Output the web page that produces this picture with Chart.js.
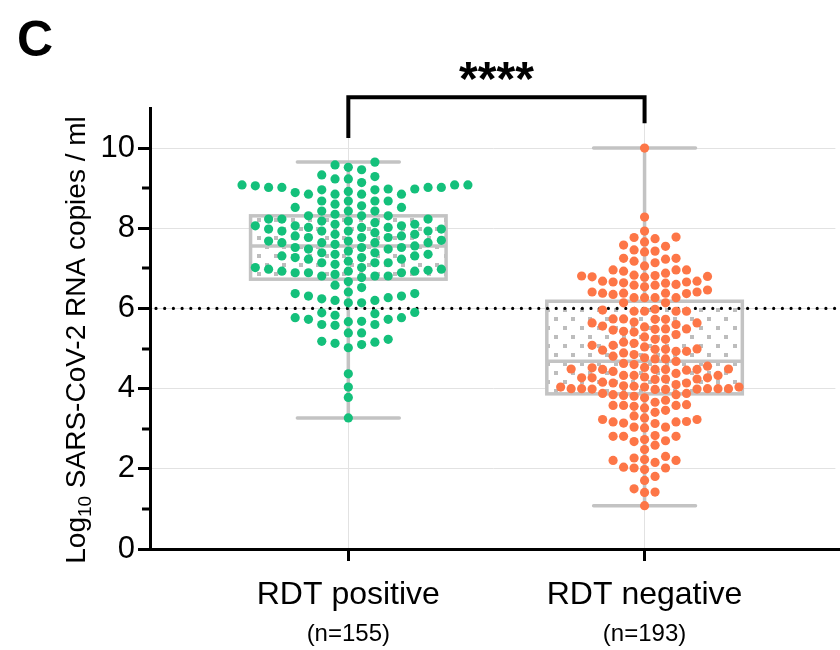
<!DOCTYPE html>
<html>
<head>
<meta charset="utf-8">
<script src="https://cdn.jsdelivr.net/npm/chart.js@4.4.1/dist/chart.umd.min.js"></script>
<style>
  html, body { margin: 0; padding: 0; background: #fff; }
  #wrap { width: 840px; height: 650px; }
</style>
</head>
<body>
<div id="wrap"><canvas id="chart" width="840" height="650"></canvas></div>
<script>
const categories = ['RDT positive', 'RDT negative'];

// log10 copies / ml
const positiveLoads = [
    9.02, 7.98, 7.23, 6.81,
    9.02, 8.23, 7.93, 7.68, 7.39, 7.02,
    9.02, 8.35, 8.10, 7.85, 7.60, 7.27, 6.93,
    9.33, 8.96, 8.68, 8.43, 8.23, 7.93, 7.64, 7.43, 7.18, 6.89,
    9.08, 8.85, 8.56, 8.06, 7.68, 7.48, 7.14, 6.89,
    9.58, 9.08, 8.85, 8.68, 8.43, 8.18, 7.93, 7.64, 7.35, 7.10, 6.85,
    9.46, 9.02, 8.68, 8.31, 8.10, 7.85, 7.64, 7.39, 7.14, 6.81,
    9.23, 8.89, 8.52, 8.31, 8.02, 7.77, 7.52, 7.31, 7.02, 6.77,
    9.65, 9.29, 8.96, 8.60, 8.02, 7.77, 7.52, 7.23, 6.93,
    9.52, 9.14, 8.92, 8.68, 8.06, 7.81, 7.56, 7.35, 6.98,
    9.23, 8.85, 8.14, 7.89, 7.64, 7.14,
    9.08, 8.85, 8.52, 8.31, 8.02, 7.77, 7.52, 7.31, 6.98,
    8.98, 8.43, 8.06, 7.81, 7.48, 6.89,
    8.98, 8.18, 7.93, 6.81,
    9.06, 8.23, 7.98, 7.27, 6.93,
    7.70, 6.95,
    6.58, 6.67, 6.37, 6.41, 6.52, 6.37, 6.31, 6.31, 6.20, 6.24, 6.20, 6.27, 6.14, 6.14,
    5.73, 5.77, 5.77, 5.83, 5.87, 5.89, 5.90, 5.60, 5.60, 5.58, 5.67, 5.73, 5.68,
    5.39, 5.39, 5.02, 5.13, 5.16, 5.10, 5.18, 5.23,
    4.37, 4.04, 3.78, 3.27
];

const negativeLoads = [
    10.0, 8.28, 7.93, 7.78, 7.77, 7.74, 7.66, 7.58, 7.55, 7.46, 7.43, 7.41,
    7.25, 7.25, 7.23, 7.18, 7.14, 7.06,
    6.96, 6.96, 6.96, 6.93, 6.88,
    6.82, 6.83, 6.80, 6.81, 6.78, 6.79,
    6.68, 6.60, 6.68, 6.58, 6.63, 6.54, 6.58, 6.66, 6.64, 6.66,
    6.37, 6.46, 6.38, 6.41, 6.27, 6.27, 6.27, 6.27, 6.35, 6.41, 6.38, 6.38,
    5.96, 6.14, 5.93, 5.93, 5.98, 5.93, 6.14, 5.93,
    5.73, 5.64, 5.60, 5.73, 5.74, 5.64, 5.66, 5.74,
    5.46, 5.54, 5.56, 5.49, 5.49, 5.41, 5.43, 5.48,
    5.29, 5.35, 5.23, 5.23,
    5.04, 4.99, 5.08, 5.13, 4.93, 4.98, 5.08, 4.93, 5.16, 4.96, 4.98,
    4.89, 4.81, 4.74, 4.85, 4.68, 4.74, 4.77,
    4.48, 4.63, 4.49, 4.52, 4.48, 4.43, 4.49, 4.48, 4.46, 4.60, 4.56, 4.38, 4.48, 4.53,
    4.24, 4.33, 4.33, 4.27, 4.23, 4.29, 4.33, 4.27, 4.16, 4.24, 4.27,
    4.00, 3.98, 4.00, 4.14, 4.00, 4.07, 4.06, 4.04, 4.00, 4.04, 4.00, 4.10, 4.14, 3.99, 4.04, 3.99, 3.98,
    3.83, 3.88, 3.88, 3.81, 3.85, 3.85,
    3.66, 3.58, 3.71, 3.56, 3.77, 3.52, 3.58, 3.58, 3.60,
    3.41, 3.46, 3.32, 3.27,
    3.17, 3.23, 3.13, 3.04, 3.02, 3.23, 3.04, 3.14, 3.18, 3.17,
    2.70, 2.81, 2.81, 2.73, 2.68, 2.81, 2.59, 2.83,
    2.48,
    2.23, 2.16, 2.21, 2.31, 2.27, 2.21, 2.04,
    1.98, 2.02, 2.02,
    1.81, 1.71,
    1.50, 1.41, 1.42,
    1.08
];

// box: min / q1 / median / q3 / max
const whiskerLow = [3.27, 1.08];
const quartile1 = [6.73, 3.87];
const medians = [7.56, 4.68];
const quartile3 = [8.31, 6.18];
const whiskerHigh = [9.65, 10.0];

const cutoffValue = 6;
const yTickValues = [0, 2, 4, 6, 8, 10];
const yMinorValues = [1, 3, 5, 7, 9];
const starsText = '****';
const panelLetter = 'C';

const FONT = '"Liberation Sans", Arial, Helvetica, sans-serif';
const GREEN = '#14c07b';
const ORANGE = '#fd7647';
const BOX_GREY = '#c3c3c3';

// plot area runs 150..836 px; groups sit at 348.5 and 645
const PX_PER_X = 296.5;
const X_MIN = 1 - 198.5 / PX_PER_X;
const X_MAX = X_MIN + 686 / PX_PER_X;
const PX_PER_Y = 441 / 11;
const BOX_HALF = 0.33;
const CAP_HALF = 0.172;

// column beeswarm: lowest value first, nearest free column wins
function swarmX(values, centre, colStepPx) {
    const gap = 9.4 / PX_PER_Y;
    const order = values.map((v, i) => i).sort((a, b) => values[a] - values[b]);
    const lastInCol = {};
    const xs = new Array(values.length);
    order.forEach(i => {
        const v = values[i];
        for (let k = 0; ; k++) {
            const c = k === 0 ? 0 : (k % 2 ? (k + 1) / 2 : -k / 2);
            if (lastInCol[c] === undefined || v - lastInCol[c] >= gap) {
                lastInCol[c] = v;
                xs[i] = centre + c * colStepPx / PX_PER_X;
                break;
            }
        }
    });
    return values.map((v, i) => ({ x: xs[i], y: v }));
}

function makeDotPattern() {
    const tile = document.createElement('canvas');
    tile.width = 17;
    tile.height = 18;
    const t = tile.getContext('2d');
    t.fillStyle = '#fff';
    t.fillRect(0, 0, 17, 18);
    t.fillStyle = '#bdbdbd';
    t.fillRect(2, 2, 4, 4);
    t.fillRect(10, 11, 4, 4);
    return t.createPattern(tile, 'repeat');
}

const boxPlugin = {
    id: 'boxes',
    beforeDatasetsDraw(chart) {
        const { ctx, chartArea, scales: { x, y } } = chart;
        const pattern = makeDotPattern();
        ctx.save();
        categories.forEach((name, i) => {
            const cx = i + 1;
            const l = x.getPixelForValue(cx - BOX_HALF);
            const r = x.getPixelForValue(cx + BOX_HALF);
            const t = y.getPixelForValue(quartile3[i]);
            const b = y.getPixelForValue(quartile1[i]);
            ctx.fillStyle = pattern;
            ctx.fillRect(l, t, r - l, b - t);
            ctx.strokeStyle = BOX_GREY;
            ctx.lineWidth = 3.5;
            ctx.strokeRect(l, t, r - l, b - t);
            const m = y.getPixelForValue(medians[i]);
            ctx.beginPath();
            ctx.moveTo(l, m);
            ctx.lineTo(r, m);
            ctx.stroke();

            // whiskers
            const px = x.getPixelForValue(cx);
            const cl = x.getPixelForValue(cx - CAP_HALF);
            const cr = x.getPixelForValue(cx + CAP_HALF);
            const hi = y.getPixelForValue(whiskerHigh[i]);
            const lo = y.getPixelForValue(whiskerLow[i]);
            ctx.lineWidth = 3.5;
            ctx.lineCap = 'round';
            ctx.beginPath();
            ctx.moveTo(px, t); ctx.lineTo(px, hi);
            ctx.moveTo(px, b); ctx.lineTo(px, lo);
            ctx.moveTo(cl, hi); ctx.lineTo(cr, hi);
            ctx.moveTo(cl, lo); ctx.lineTo(cr, lo);
            ctx.stroke();
            ctx.lineCap = 'butt';
        });

        // dotted cutoff line
        const cy = y.getPixelForValue(cutoffValue);
        ctx.strokeStyle = '#000';
        ctx.lineWidth = 3.2;
        ctx.lineCap = 'round';
        ctx.setLineDash([0, 8.7]);
        ctx.beginPath();
        ctx.moveTo(chartArea.left + 6, cy);
        ctx.lineTo(chart.width, cy);
        ctx.stroke();
        ctx.restore();
    },
    afterDraw(chart) {
        const { ctx, chartArea, scales: { x, y } } = chart;
        ctx.save();

        // x axis runs on to the edge of the figure
        ctx.strokeStyle = '#000';
        ctx.lineWidth = 3;
        ctx.beginPath();
        ctx.moveTo(chartArea.right - 1, chartArea.bottom + 0.5);
        ctx.lineTo(chart.width, chartArea.bottom + 0.5);
        ctx.stroke();

        // minor ticks on the y axis
        yMinorValues.forEach(v => {
            const py = Math.round(y.getPixelForValue(v));
            ctx.beginPath();
            ctx.moveTo(chartArea.left - 8, py);
            ctx.lineTo(chartArea.left, py);
            ctx.stroke();
        });

        // significance bracket
        const x1 = x.getPixelForValue(1), x2 = x.getPixelForValue(2);
        const top = y.getPixelForValue(11.27);
        ctx.lineWidth = 4;
        ctx.beginPath();
        ctx.moveTo(x1, y.getPixelForValue(10.25));
        ctx.lineTo(x1, top);
        ctx.lineTo(x2, top);
        ctx.lineTo(x2, y.getPixelForValue(10.62));
        ctx.stroke();
        ctx.fillStyle = '#000';
        ctx.textAlign = 'center';
        ctx.textBaseline = 'alphabetic';
        ctx.font = 'bold 48px ' + FONT;
        ctx.fillText(starsText, (x1 + x2) / 2, top - 2);

        // category labels
        const counts = [positiveLoads.length, negativeLoads.length];
        categories.forEach((name, i) => {
            const px = x.getPixelForValue(i + 1);
            ctx.font = '32px ' + FONT;
            ctx.fillText(name, px, chartArea.bottom + 55);
            ctx.font = '24px ' + FONT;
            ctx.fillText('(n=' + counts[i] + ')', px, chartArea.bottom + 92);
        });

        // y title with subscript
        ctx.translate(85, 340);
        ctx.rotate(-Math.PI / 2);
        const big = '28px ' + FONT, small = '19px ' + FONT;
        const parts = ['Log', '10', ' SARS-CoV-2 RNA copies / ml'];
        ctx.font = big;
        const w1 = ctx.measureText(parts[0]).width;
        const w3 = ctx.measureText(parts[2]).width;
        ctx.font = small;
        const w2 = ctx.measureText(parts[1]).width;
        let sx = -(w1 + w2 + w3) / 2;
        ctx.textAlign = 'left';
        ctx.font = big;
        ctx.fillText(parts[0], sx, 0);
        ctx.font = small;
        ctx.fillText(parts[1], sx + w1, 6);
        ctx.font = big;
        ctx.fillText(parts[2], sx + w1 + w2, 0);
        ctx.setTransform(1, 0, 0, 1, 0, 0);

        // panel letter
        ctx.font = 'bold 50px ' + FONT;
        ctx.textAlign = 'left';
        ctx.fillText(panelLetter, 17, 56);
        ctx.restore();
    }
};

new Chart(document.getElementById('chart'), {
    type: 'scatter',
    data: {
        datasets: [
            {
                label: categories[0],
                data: swarmX(positiveLoads, 1, 13.3),
                backgroundColor: GREEN,
                borderWidth: 0,
                pointRadius: 4.6,
            },
            {
                label: categories[1],
                data: swarmX(negativeLoads, 2, 10.5),
                backgroundColor: ORANGE,
                borderWidth: 0,
                pointRadius: 4.6,
            }
        ]
    },
    options: {
        responsive: false,
        animation: false,
        devicePixelRatio: 1,
        layout: { padding: { top: 108, left: 0, right: 0, bottom: 0 } },
        plugins: {
            legend: { display: false },
            tooltip: { enabled: false },
        },
        scales: {
            x: {
                type: 'linear',
                min: X_MIN,
                max: X_MAX,
                afterBuildTicks: scale => { scale.ticks = [{ value: 1 }, { value: 2 }]; },
                afterFit: scale => { scale.height = 101; },
                ticks: { display: false },
                grid: {
                    color: '#e2e2e2',
                    lineWidth: 1,
                    tickColor: '#000',
                    tickWidth: 3,
                    tickLength: 12,
                },
                border: { color: '#000', width: 3 },
            },
            y: {
                min: 0,
                max: 11,
                afterBuildTicks: scale => { scale.ticks = yTickValues.map(v => ({ value: v })); },
                afterFit: scale => { scale.width = 150; },
                ticks: {
                    color: '#000',
                    padding: 3,
                    font: { family: FONT, size: 31 },
                },
                grid: {
                    color: ctx => (ctx.tick && ctx.tick.value === 0) ? 'rgba(0,0,0,0)' : '#e2e2e2',
                    lineWidth: 1,
                    tickColor: '#000',
                    tickWidth: 3,
                    tickLength: 12,
                },
                border: { color: '#000', width: 3 },
            }
        }
    },
    plugins: [boxPlugin]
});
</script>
</body>
</html>
